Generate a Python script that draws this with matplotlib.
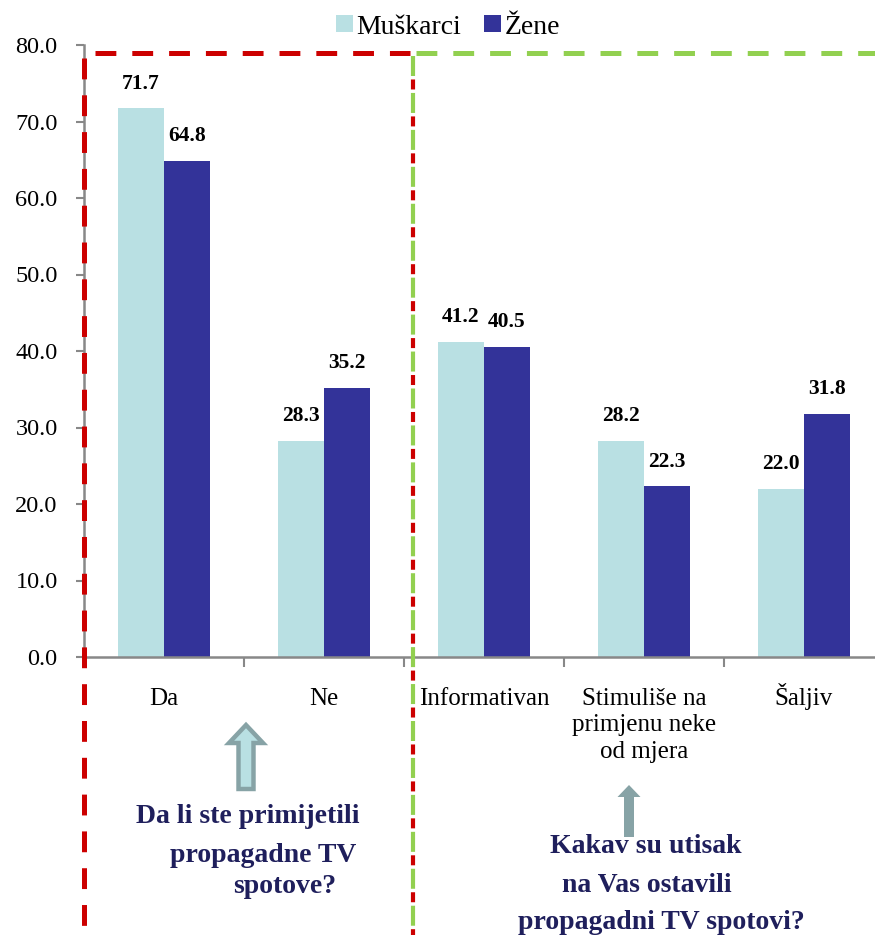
import matplotlib
matplotlib.use("Agg")
import matplotlib.pyplot as plt
import numpy as np
from matplotlib.lines import Line2D
from matplotlib.patches import FancyArrow
from matplotlib.transforms import ScaledTranslation

categories = ["Da", "Ne", "Informativan", "Stimuliše na\nprimjenu neke\nod mjera", "Šaljiv"]
muskarci = [71.7, 28.3, 41.2, 28.2, 22.0]
zene = [64.8, 35.2, 40.5, 22.3, 31.8]
series_names = ["Muškarci", "Žene"]
yticks = [0, 10, 20, 30, 40, 50, 60, 70, 80]

plt.rcParams["lines.scale_dashes"] = False
W, H = 875, 935
fig = plt.figure(figsize=(W / 100, H / 100), dpi=100)
serif = ["Liberation Serif", "DejaVu Serif"]

def fx(px):
    return px / W

def fy(py):
    return 1 - py / H

ax = fig.add_axes([fx(84), fy(657), fx(884) - fx(84), fy(45) - fy(657)])
x = np.arange(len(categories))
bw = 0.2875
c1, c2 = "#b9e0e3", "#333399"
b1 = ax.bar(x - bw / 2, muskarci, bw, color=c1, label=series_names[0], zorder=2)
b2 = ax.bar(x + bw / 2, zene, bw, color=c2, label=series_names[1], zorder=2)
for bars, vals in ((b1, muskarci), (b2, zene)):
    for r, v in zip(bars, vals):
        ax.text(r.get_x() + r.get_width() / 2, v + 2.6, f"{v:.1f}", ha="center", va="baseline",
                fontsize=15.5, fontweight="bold", family=serif)

ax.set_xlim(-0.5, len(categories) - 0.5)
ax.set_ylim(0, 80)
ax.set_yticks(yticks)
ax.set_yticklabels([f"{t:.1f}" for t in yticks], fontsize=17.5, family=serif)
ax.set_xticks(x)
ax.set_xticklabels(categories, fontsize=18, family=serif, va="top", linespacing=1.28)
ax.tick_params(axis="x", length=0, pad=22)
ax.tick_params(axis="y", length=6, color="#888888", width=1.5, pad=13)
ax.set_xticks(np.arange(0.5, len(categories) - 0.5, 1), minor=True)
ax.tick_params(axis="x", which="minor", length=7, color="#888888", width=1.5)
for lab in ax.get_xticklabels():
    if lab.get_text().startswith("Š"):
        lab.set_transform(lab.get_transform() + ScaledTranslation(0, 5 / 100, fig.dpi_scale_trans))
for s in ["top", "right"]:
    ax.spines[s].set_visible(False)
for s in ["left", "bottom"]:
    ax.spines[s].set_color("#888888")
    ax.spines[s].set_linewidth(1.8)

fig.legend(handles=[b1, b2], labels=series_names, loc="center", bbox_to_anchor=(fx(448), fy(27)),
           ncol=2, frameon=False, prop={"family": serif, "size": 20}, handlelength=0.62,
           handleheight=0.55, handletextpad=0.12, columnspacing=0.8, borderpad=0, borderaxespad=0)

# dashed region boxes (dash lengths in points)
red, green = "#cc0000", "#92d050"
lw = 3.6
dash = (15, 11.5)
fig.add_artist(Line2D([fx(95), fx(410)], [fy(52.5), fy(52.5)], color=red, lw=lw, dashes=dash, zorder=5))
fig.add_artist(Line2D([fx(84), fx(84)], [fy(58), fy(935)], color=red, lw=lw, dashes=dash, zorder=5))
fig.add_artist(Line2D([fx(416), fx(875)], [fy(52.5), fy(52.5)], color=green, lw=lw, dashes=dash, zorder=5))
fig.add_artist(Line2D([fx(413), fx(413)], [fy(56), fy(935)], color=green, lw=3.0,
                      dashes=(14.4, 12.2), zorder=5))
fig.add_artist(Line2D([fx(413), fx(413)], [fy(56), fy(935)], color=red, lw=3.0,
                      dashes=(0, 16.9, 7.2, 2.5), zorder=6))

# arrows
fig.add_artist(FancyArrow(fx(246), fy(789), 0, fy(725) - fy(789), width=fx(15), head_width=fx(34),
                          head_length=fy(725) - fy(743), length_includes_head=True,
                          transform=fig.transFigure, facecolor="#b9e0e3", edgecolor="#87a3a6", lw=3.2))
fig.add_artist(FancyArrow(fx(629), fy(837), 0, fy(785) - fy(837), width=fx(10), head_width=fx(23),
                          head_length=fy(785) - fy(797), length_includes_head=True,
                          transform=fig.transFigure, facecolor="#87a3a6", edgecolor="#87a3a6", lw=0))

navy = "#1f1f5c"
kw = dict(family=serif, fontsize=20, fontweight="bold", color=navy, ha="center", va="baseline")
fig.text(fx(248), fy(823), "Da li ste primijetili", **kw)
fig.text(fx(263), fy(862), "propagadne TV", **kw)
fig.text(fx(285), fy(893), "spotove?", **kw)
fig.text(fx(646), fy(853), "Kakav su utisak", **kw)
fig.text(fx(647), fy(892), "na Vas ostavili", **kw)
fig.text(fx(661), fy(929), "propagadni TV spotovi?", **kw)

fig.savefig("out.png", dpi=100)
